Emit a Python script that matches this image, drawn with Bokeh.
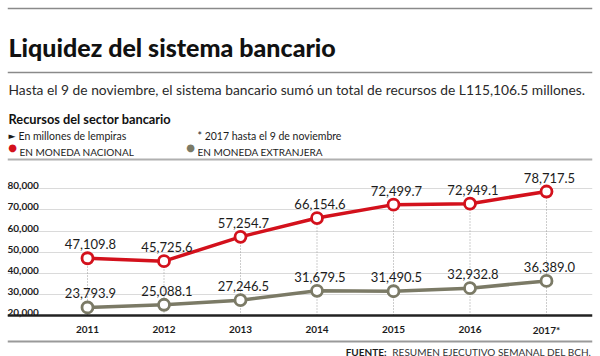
from bokeh.plotting import figure
from bokeh.models import Range1d, Label, LabelSet, ColumnDataSource, Span, Grid, FixedTicker
from bokeh.core.properties import value
from bokeh.embed import file_html
from bokeh.resources import INLINE

# ---------------- data ----------------
years = ["2011", "2012", "2013", "2014", "2015", "2016", "2017*"]
nacional = [47109.8, 45725.6, 57254.7, 66154.6, 72499.7, 72949.1, 78717.5]
extranjera = [23793.9, 25088.1, 27246.5, 31679.5, 31490.5, 32932.8, 36389.0]
y_ticks = [20000, 30000, 40000, 50000, 60000, 70000, 80000]
y_tick_labels = ["20,000", "30,000", "40,000", "50,000", "60,000", "70,000", "80,000"]

title_text = "Liquidez del sistema bancario"
subtitle_text = ("Hasta el 9 de noviembre, el sistema bancario sumó un total de "
                 "recursos de L115,106.5 millones.")
chart_title = "Recursos del sector bancario"
unit_note = "En millones de lempiras"
year_note = "* 2017 hasta el 9 de noviembre"
series_names = ["EN MONEDA NACIONAL", "EN MONEDA EXTRANJERA"]
source_bold = "FUENTE:"
source_rest = "RESUMEN EJECUTIVO SEMANAL DEL BCH."

# ---------------- layout / style ----------------
W, H = 600, 356
FRAME_LEFT, FRAME_RIGHT = 7, 592
PX_FIRST, PX_LAST = 87, 546        # pixel x of first / last category
PX_YMIN, PX_YMAX = 315, 188.3      # pixel y of lowest / highest tick

RED = "#d3111c"
GRAY = "#7b7a66"
TXT = "#1c1c1c"
FONT = "Lato"
TITLE_FONT = "Lato Black"
SYM = "DejaVu Sans"

idx = list(range(len(years)))
n = len(years) - 1
ppu = (PX_LAST - PX_FIRST) / n
x_start = -(PX_FIRST - FRAME_LEFT) / ppu
x_end = n + (FRAME_RIGHT - PX_LAST) / ppu
ypp = (y_ticks[-1] - y_ticks[0]) / (PX_YMIN - PX_YMAX)
y_start = y_ticks[0] - (H - PX_YMIN) * ypp
y_end = y_ticks[-1] + PX_YMAX * ypp

p = figure(width=W, height=H,
           x_range=Range1d(x_start, x_end), y_range=Range1d(y_start, y_end),
           x_axis_type=None, y_axis_type=None,
           output_backend="svg", toolbar_location=None,
           min_border_left=FRAME_LEFT, min_border_right=W - FRAME_RIGHT,
           min_border_top=0, min_border_bottom=0)
p.outline_line_color = None
p.background_fill_color = "white"
p.border_fill_color = "white"

# grid lines
p.add_layout(Grid(dimension=1, ticker=FixedTicker(ticks=y_ticks[1:]),
                  grid_line_color="#dadada", grid_line_width=1))
# base line
p.add_layout(Span(location=y_ticks[0], dimension="width",
                  line_color="#222222", line_width=2.5))


def sx(px):
    return px - FRAME_LEFT


def sy(px):
    return H - px


# horizontal rules
for px, col, lw in [(8, "#8a8a8a", 1.5), (72, "#8a8a8a", 1.5),
                    (159, "#b0b0b0", 2), (341, "#9a9a9a", 2)]:
    p.add_layout(Span(location=sy(px), location_units="screen", dimension="width",
                      line_color=col, line_width=lw))

# dotted drop lines
p.segment(x0=idx, y0=[y_ticks[0]] * len(idx), x1=idx, y1=nacional,
          line_color="#9a9a9a", line_width=1, line_dash="1 2")

# series
for vals, col in [(nacional, RED), (extranjera, GRAY)]:
    p.line(idx, vals, line_color=col, line_width=3.5)
    p.scatter(idx, vals, size=11, fill_color="white", line_color=col, line_width=2.8)
    src = ColumnDataSource(dict(x=idx, y=vals, t=[f"{v:,.1f}" for v in vals]))
    p.add_layout(LabelSet(x="x", y="y", text="t", source=src,
                          x_offset=3, y_offset=9,
                          text_align="center", text_baseline="alphabetic",
                          text_font=value(FONT), text_font_size="13px",
                          text_color=TXT))

# y tick labels
for t, lab_ in zip(y_ticks, y_tick_labels):
    p.add_layout(Label(x=0, y=t, x_units="screen", y_units="data", y_offset=3,
                       text=lab_, text_align="left", text_baseline="alphabetic",
                       text_font=FONT, text_font_size="10px",
                       text_font_style="bold", text_color=TXT))

# x tick labels
for i, lab_ in zip(idx, years):
    p.add_layout(Label(x=i, y=sy(329), x_units="data", y_units="screen",
                       text=lab_, text_align="center", text_baseline="alphabetic",
                       text_font=FONT, text_font_size="10px",
                       text_font_style="bold", text_color=TXT))


def lab(text, px, py, size, bold=False, color=TXT, font=FONT, align="left",
        baseline="alphabetic"):
    p.add_layout(Label(x=sx(px), y=sy(py), x_units="screen", y_units="screen",
                       text=text, text_align=align, text_baseline=baseline,
                       text_font=font, text_font_size=size,
                       text_font_style="bold" if bold else "normal",
                       text_color=color))


lab(title_text, 8, 46, "25px", bold=True, color="#111111", font=TITLE_FONT)
lab(subtitle_text, 8, 89, "13.8px", color="#2a2a2a")
lab(chart_title, 8, 118, "12.8px", bold=True, color="#111111")
lab("►", 8, 135, "9px", font=SYM)
lab(unit_note, 18, 135, "10.5px")
lab(year_note, 197, 135, "10.5px")
lab("●", 12, 147, "10px", color=RED, font=SYM, align="center", baseline="middle")
lab(series_names[0], 19, 151, "10px")
lab("●", 190, 147, "10px", color=GRAY, font=SYM, align="center", baseline="middle")
lab(series_names[1], 197, 151, "10px")
lab(source_rest, 591, 351, "10px", color="#333333", align="right")
lab(source_bold, 386, 351, "10px", bold=True, align="right")

open("out.html", "w").write(file_html(p, INLINE))
